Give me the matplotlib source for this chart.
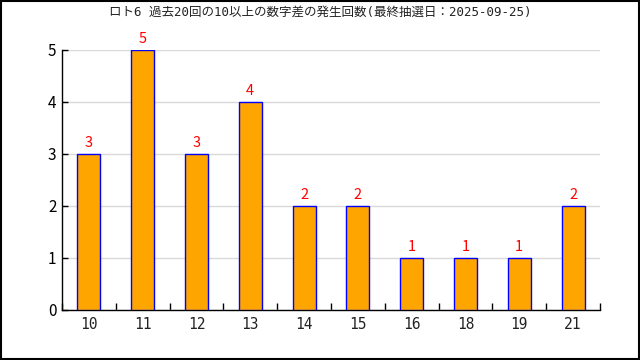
import matplotlib
matplotlib.use("Agg")
import matplotlib.pyplot as plt
import numpy as np
from matplotlib.patches import Rectangle

plt.rcParams['font.family'] = ['Noto Sans CJK JP', 'DejaVu Sans']

categories = ["10", "11", "12", "13", "14", "15", "16", "18", "19", "21"]
counts = [3, 5, 3, 4, 2, 2, 1, 1, 1, 2]
title = "ロト6 過去20回の10以上の数字差の発生回数(最終抽選日：2025-09-25)"

fig = plt.figure(figsize=(6.4, 3.6), dpi=100)
ax = fig.add_axes([62/640, 50/360, 538/640, 260/360])
x = np.arange(len(categories))
bars = ax.bar(x, counts, width=0.43, color="#FFA500", edgecolor="#0000FF", linewidth=1, zorder=3)
for xi, v in zip(x, counts):
    ax.text(xi, v + 0.08, str(v), color="red", ha="center", va="bottom", fontsize=10.5)

ax.set_xlim(-0.5, len(categories) - 0.5)
ax.set_ylim(0, 5)
ax.set_yticks(range(0, 6))
ax.yaxis.grid(True, color="#d9d9d9", linewidth=1, zorder=0)
ax.set_xticks(x)
ax.set_xticklabels(categories, fontsize=10.5, color="#222222",
                   family=['DejaVu Sans Mono', 'Noto Sans CJK JP'])
ax.set_xticks(np.arange(-0.5, len(categories)), minor=True)
ax.tick_params(axis="x", which="major", length=0, pad=5)
ax.tick_params(axis="x", which="minor", direction="in", length=5, width=1)
ax.tick_params(axis="y", direction="in", length=4, width=1, labelsize=11, pad=4)
for s in ["top", "right"]:
    ax.spines[s].set_visible(False)
ax.spines["left"].set_linewidth(1)
ax.spines["bottom"].set_linewidth(1)

fig.text(0.5, 1 - 12/360, title, ha="center", va="center", fontsize=9, color="#222222",
         family=['DejaVu Sans Mono', 'Noto Sans CJK JP'])
fig.patches.append(Rectangle((0.001, 0.002), 0.997, 0.996, transform=fig.transFigure,
                             fill=False, edgecolor="black", linewidth=1.5))
fig.savefig("out.png", dpi=100)
